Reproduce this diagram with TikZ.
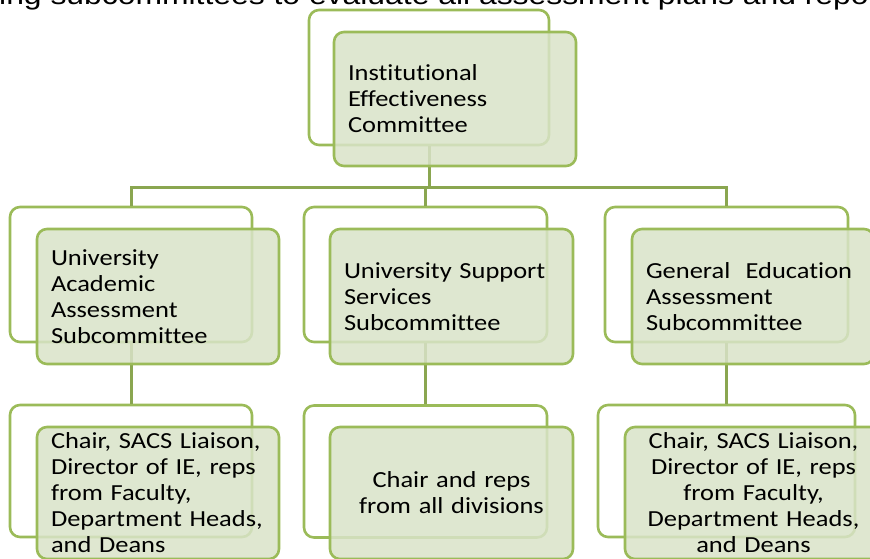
\documentclass[tikz,border=0pt]{standalone}
\usepackage{fontspec}
\usepackage{xcolor}
\newfontfamily\boxfont[FakeStretch=1.15,Ligatures=NoCommon]{Carlito}
\newfontfamily\capfont[FakeStretch=1.18]{Liberation Sans}
\definecolor{iegreen}{RGB}{155,187,89}
\definecolor{iefill}{RGB}{217,227,200}
\definecolor{ielink}{RGB}{138,166,80}

\begin{document}
\begin{tikzpicture}[x=1pt,y=1pt,
  backbox/.style={rectangle, rounded corners=10pt, draw=iegreen,
    line width=2.6pt, fill=white, minimum width=242pt, minimum height=135pt},
  frontbox/.style={rectangle, rounded corners=10pt, draw=iegreen,
    line width=2.6pt, fill=iefill, fill opacity=0.85, text opacity=1,
    inner xsep=14pt, inner ysep=0pt, text width=214pt, align=left,
    minimum height=135pt, font=\boxfont\fontsize{23}{26}\selectfont},
  link/.style={draw=ielink, line width=3pt}
]
  \useasboundingbox (0,0) rectangle (870,-558);
  \clip (0,0) rectangle (870,-558);

  % caption line running off the top edge
  \node[anchor=base west, inner sep=0pt, font=\capfont\fontsize{27}{30}\selectfont]
    (caption) at (-1,-4) {ing subcommittees to evaluate all assessment plans and repo};

  \coordinate (bus) at (0,-187);

  % back cards
  \node[backbox, minimum width=240pt] (iecback) at (429,-77.5) {};
  \node[backbox] (acadback) at (131,-274.5) {};
  \node[backbox, minimum width=243pt] (suppback) at (425.5,-274.5) {};
  \node[backbox, minimum width=243pt] (genback) at (726.5,-274.5) {};
  \node[backbox, minimum height=132pt] (acadmemback) at (131,-471) {};
  \node[backbox, minimum width=243pt, minimum height=132pt] (suppmemback) at (425.5,-471.5) {};
  \node[backbox, minimum width=257pt, minimum height=132pt] (genmemback) at (726.5,-471) {};

  % connectors
  \draw[link] (iecback.south) -- (iecback.south |- bus);
  \draw[link] (acadback.north) -- (acadback.north |- bus) -- (genback.north |- bus) -- (genback.north);
  \draw[link] (suppback.north |- bus) -- (suppback.north);
  \draw[link] (acadback.south) -- (acadmemback.north);
  \draw[link] (suppback.south) -- (suppmemback.north);
  \draw[link] (genback.south) -- (genmemback.north);

  % front cards
  \node[frontbox, minimum height=134pt] (iec) at (455,-99)
    {Institutional\\Effectiveness\\Committee};
  \node[frontbox] (acad) at (158,-296.5)
    {University\\Academic\\Assessment\\Subcommittee};
  \node[frontbox, text width=215pt] (supp) at (451.5,-296.5)
    {University Support\\Services\\Subcommittee};
  \node[frontbox] (gen) at (753,-296.5)
    {General\ \ Education\\Assessment\\Subcommittee};
  \node[frontbox, minimum height=132pt] (acadmem) at (158,-493)
    {Chair, SACS Liaison,\\Director of IE, reps\\from Faculty,\\Department Heads,\\and Deans};
  \node[frontbox, text width=215pt, align=center, minimum height=132pt] (suppmem) at (451.5,-493)
    {Chair and reps\\from all divisions};
  \node[frontbox, text width=229pt, align=center, minimum height=132pt] (genmem) at (753.5,-493)
    {Chair, SACS Liaison,\\Director of IE, reps\\from Faculty,\\Department Heads,\\and Deans};
\end{tikzpicture}
\end{document}
